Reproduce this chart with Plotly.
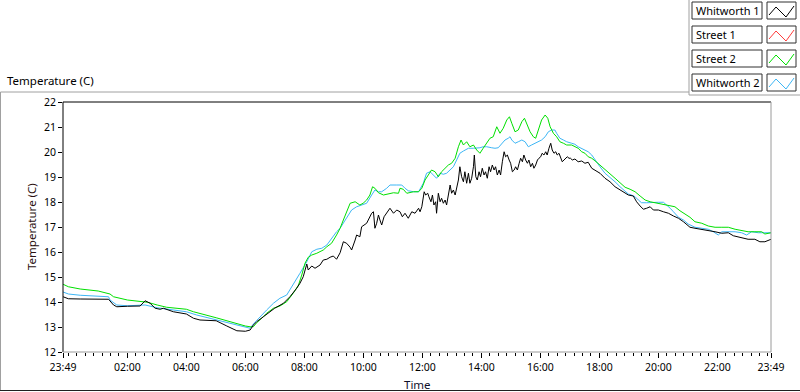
import plotly.graph_objects as go

# ---------------- data (time in hours from midnight; 23:49 start = -0.18) ----------------
names = ["Whitworth 1", "Street 1", "Street 2", "Whitworth 2"]
colors = ["#000000", "#FF3B3B", "#00E000", "#3DB6F5"]

w1_t = [-0.18, 0.00, 0.40, 1.01, 1.36, 1.53, 1.64, 2.00, 2.43, 2.60,
        2.77, 2.94, 3.11, 3.22, 3.33, 3.56, 4.00, 4.24, 4.46, 5.01,
        5.37, 5.71, 6.00,
        6.16, 6.27, 6.38, 6.61, 6.83, 6.99, 7.29, 7.51, 7.74, 7.85,
        7.96, 8.04, 8.08, 8.13, 8.25, 8.36, 8.53, 8.64, 8.76, 8.87,
        8.98, 9.09, 9.21, 9.32, 9.43, 9.55, 9.60, 9.72, 9.77, 9.88,
        9.94, 10.11, 10.28, 10.34, 10.39, 10.45, 10.51, 10.56, 10.62, 10.70,
        10.79, 10.90, 11.02, 11.13, 11.24, 11.32, 11.41, 11.52, 11.64, 11.75,
        11.87, 11.92, 11.98,
        12.06, 12.11, 12.18, 12.22, 12.29, 12.34, 12.39, 12.45, 12.48, 12.54,
        12.60, 12.65, 12.71, 12.77, 12.82, 12.88, 12.94, 12.99, 13.05, 13.11,
        13.16, 13.22, 13.27, 13.33, 13.39, 13.44, 13.50, 13.56, 13.61, 13.67,
        13.73, 13.76, 13.81, 13.86, 13.92, 13.97, 14.03, 14.09, 14.14, 14.20,
        14.26, 14.31, 14.37, 14.43, 14.48, 14.54, 14.60, 14.65, 14.71, 14.77,
        14.82, 14.88, 14.94, 14.99, 15.05, 15.11, 15.16, 15.22, 15.28, 15.33,
        15.39, 15.44, 15.50, 15.56, 15.61, 15.67, 15.73, 15.78, 15.84, 15.90,
        15.95, 16.01, 16.06, 16.12, 16.18, 16.23, 16.29, 16.35, 16.40, 16.46,
        16.52, 16.57, 16.63, 16.69, 16.74, 16.80, 16.86, 16.91, 16.97, 17.02,
        17.08, 17.17, 17.28, 17.40, 17.51, 17.62, 17.74, 17.85, 17.96,
        18.02, 18.19, 18.36, 18.53, 18.70, 18.87, 18.98, 19.15, 19.26, 19.38,
        19.49, 19.60, 19.72, 19.83, 20.00, 20.17, 20.34, 20.51, 20.68, 20.85,
        20.96, 21.07, 21.24, 21.47, 21.69, 21.92, 22.15, 22.37, 22.54, 22.71,
        22.88, 23.04, 23.27, 23.44, 23.61, 23.73, 23.82]
w1_v = [14.21, 14.13, 14.12, 14.12, 14.11, 13.88, 13.81, 13.83, 13.84, 14.05,
        13.95, 13.75, 13.71, 13.75, 13.71, 13.61, 13.52, 13.35, 13.28, 13.25,
        13.04, 12.85, 12.83,
        12.88, 13.08, 13.21, 13.41, 13.61, 13.75, 13.95, 14.21, 14.55, 14.75,
        15.01, 15.41, 15.52, 15.28, 15.44, 15.35, 15.48, 15.68, 15.71, 15.79,
        15.84, 15.71, 15.97, 16.41, 16.35, 16.19, 16.08, 16.48, 16.68, 16.61,
        17.01, 17.15, 17.55, 17.61, 16.95, 17.15, 17.48, 17.28, 17.08, 17.41,
        17.55, 17.75, 17.55, 17.68, 17.61, 17.41, 17.55, 17.35, 17.61, 17.55,
        17.75, 17.61, 17.81,
        18.41, 18.28, 18.35, 18.21, 18.01, 18.28, 17.88, 18.01, 17.55, 18.35,
        18.01, 18.15, 17.95, 18.08, 17.88, 18.28, 18.68, 18.35, 18.48, 18.28,
        18.61, 18.88, 19.41, 19.01, 18.81, 19.21, 18.75, 19.15, 18.75, 18.95,
        19.41, 19.88, 19.01, 18.88, 19.21, 19.01, 19.35, 19.08, 19.21, 18.95,
        19.41, 19.21, 19.48, 19.28, 19.41, 19.08, 19.28, 19.08, 19.61, 20.01,
        19.81, 19.88, 19.68, 19.55, 19.21, 19.28, 19.41, 19.28, 19.55, 19.75,
        19.61, 19.88, 19.68, 19.55, 19.68, 19.41, 19.55, 19.35, 19.48, 19.68,
        19.75, 19.81, 19.95, 19.88, 20.01, 19.88, 20.15, 20.35, 20.08, 19.95,
        20.01, 19.88, 19.95, 19.75, 19.61, 19.68, 19.75, 19.81, 19.75, 19.75,
        19.68, 19.72, 19.61, 19.64, 19.55, 19.59, 19.35, 19.28, 19.21,
        19.15, 18.95, 18.81, 18.61, 18.48, 18.35, 18.28, 18.24, 18.01, 17.84,
        17.71, 17.75, 17.81, 17.68, 17.68, 17.61, 17.55, 17.44, 17.35, 17.21,
        17.08, 16.99, 16.95, 16.91, 16.85, 16.81, 16.75, 16.77, 16.65, 16.61,
        16.55, 16.51, 16.51, 16.41, 16.41, 16.48, 16.51]

# Street 1: no samples visible in the chart
s1_t = []
s1_v = []

s2_t = [-0.18, 0.00, 0.40, 1.01, 1.41, 1.53, 2.00, 2.54, 2.68, 3.01,
        3.33, 4.00, 4.24, 5.01, 5.59, 6.00, 6.16, 6.27, 6.38, 6.49,
        6.72, 6.95, 7.17, 7.40, 7.62, 7.80, 7.91, 8.02, 8.13, 8.25,
        8.42, 8.64, 8.76, 8.92, 9.09, 9.21, 9.32, 9.43, 9.55, 9.72,
        9.88, 9.99, 10.11, 10.22, 10.31, 10.39, 10.51, 10.68, 10.85, 11.02,
        11.19, 11.24, 11.35, 11.47, 11.70, 11.87, 11.98, 12.09, 12.20, 12.31,
        12.43, 12.54, 12.65, 12.77, 12.88, 12.99, 13.11, 13.22, 13.31, 13.39,
        13.50, 13.61, 13.73, 13.84, 13.95, 14.06, 14.18, 14.29, 14.40, 14.52,
        14.63, 14.74, 14.86, 14.95, 15.03, 15.14, 15.25, 15.37, 15.46, 15.54,
        15.65, 15.76, 15.84, 15.93, 16.04, 16.16, 16.25, 16.33, 16.44, 16.55,
        16.66, 16.78, 16.89, 17.06, 17.17, 17.28, 17.40, 17.51, 17.62, 17.74,
        17.85, 18.02, 18.19, 18.36, 18.53, 18.70, 18.87, 19.04, 19.21, 19.38,
        19.55, 19.72, 19.88, 20.11, 20.34, 20.56, 20.73, 20.90, 21.07, 21.24,
        21.47, 21.69, 21.92, 22.15, 22.37, 22.60, 22.82, 23.04, 23.27, 23.50,
        23.61, 23.82]
s2_v = [14.71, 14.61, 14.52, 14.44, 14.32, 14.21, 14.08, 14.01, 13.99, 13.88,
        13.79, 13.71, 13.61, 13.37, 13.17, 13.04, 13.01, 13.01, 13.17, 13.28,
        13.55, 13.75, 13.84, 14.01, 14.35, 14.68, 15.08, 15.55, 15.79, 15.88,
        15.95, 16.08, 16.21, 16.35, 16.68, 16.95, 17.28, 17.61, 17.95, 18.01,
        17.88, 17.95, 18.08, 18.28, 18.61, 18.55, 18.37, 18.28, 18.32, 18.37,
        18.35, 18.55, 18.51, 18.35, 18.41, 18.41, 18.55, 18.88, 19.08, 19.28,
        19.21, 19.01, 19.21, 19.35, 19.48, 19.55, 19.75, 20.21, 20.48, 20.28,
        20.41, 20.21, 20.28, 20.08, 19.95, 20.15, 20.35, 20.55, 20.61, 21.01,
        20.75, 20.95, 21.28, 21.41, 21.15, 20.81, 20.88, 21.21, 21.35, 21.15,
        20.81, 20.61, 20.55, 20.88, 21.28, 21.48, 21.35, 21.01, 20.75, 20.61,
        20.41, 20.35, 20.28, 20.28, 20.21, 20.15, 20.01, 19.95, 19.81, 19.75,
        19.65, 19.48, 19.31, 19.15, 18.95, 18.77, 18.59, 18.51, 18.41, 18.24,
        18.08, 18.01, 17.97, 17.92, 17.88, 17.81, 17.65, 17.52, 17.39, 17.21,
        17.15, 17.04, 16.99, 16.99, 16.99, 16.91, 16.85, 16.81, 16.81, 16.81,
        16.72, 16.77]

w2_t = [-0.18, 0.00, 0.40, 1.01, 1.36, 1.41, 1.64, 2.00, 2.54, 2.60,
        3.01, 3.33, 4.00, 4.35, 5.01, 5.59, 6.00, 6.16, 6.27, 6.49,
        6.72, 6.95, 7.17, 7.40, 7.62, 7.85, 8.08, 8.25, 8.42, 8.59,
        8.76, 8.92, 9.09, 9.21, 9.32, 9.43, 9.60, 9.77, 9.94, 10.11,
        10.28, 10.39, 10.51, 10.62, 10.79, 10.90, 11.13, 11.30, 11.41, 11.52,
        11.70, 11.87, 12.03, 12.14, 12.26, 12.37, 12.48, 12.60, 12.71, 12.82,
        12.94, 13.05, 13.16, 13.27, 13.39, 13.56, 13.73, 13.84, 13.95, 14.06,
        14.18, 14.35, 14.46, 14.57, 14.69, 14.80, 14.91, 14.97, 15.03, 15.14,
        15.25, 15.37, 15.48, 15.59, 15.70, 15.82, 15.93, 16.04, 16.16, 16.27,
        16.38, 16.49, 16.55, 16.66, 16.78, 16.89, 17.06, 17.17, 17.28, 17.40,
        17.51, 17.62, 17.74, 17.85, 18.02, 18.19, 18.36, 18.53, 18.70, 18.87,
        18.98, 19.09, 19.21, 19.32, 19.43, 19.60, 19.77, 20.00, 20.17, 20.28,
        20.40, 20.51, 20.68, 20.85, 21.01, 21.24, 21.47, 21.69, 21.86, 22.03,
        22.15, 22.37, 22.60, 22.82, 22.99, 23.16, 23.39, 23.61, 23.82]
w2_v = [14.40, 14.32, 14.27, 14.25, 14.21, 14.08, 13.88, 13.85, 13.85, 13.88,
        13.77, 13.71, 13.61, 13.48, 13.28, 13.12, 12.99, 12.95, 13.12, 13.41,
        13.68, 13.95, 14.15, 14.28, 14.68, 15.15, 15.61, 16.01, 16.11, 16.15,
        16.28, 16.55, 16.81, 16.95, 17.15, 17.35, 17.68, 17.81, 17.88, 17.95,
        18.28, 18.48, 18.41, 18.41, 18.55, 18.68, 18.68, 18.68, 18.55, 18.45,
        18.41, 18.41, 18.75, 19.15, 19.21, 19.08, 18.95, 19.15, 19.11, 19.15,
        19.28, 19.41, 19.68, 19.95, 20.04, 20.15, 20.15, 20.15, 20.17, 20.21,
        20.21, 20.17, 20.15, 20.17, 20.35, 20.48, 20.55, 20.61, 20.48, 20.35,
        20.41, 20.48, 20.41, 20.21, 20.28, 20.35, 20.41, 20.48, 20.61, 20.81,
        20.88, 20.88, 20.75, 20.55, 20.48, 20.41, 20.35, 20.31, 20.21, 20.15,
        20.08, 20.01, 19.88, 19.68, 19.41, 19.15, 18.99, 18.81, 18.61, 18.41,
        18.32, 18.28, 18.21, 18.08, 17.97, 17.97, 17.99, 17.99, 17.99, 17.88,
        17.75, 17.61, 17.39, 17.28, 17.12, 16.99, 16.95, 16.91, 16.81, 16.68,
        16.81, 16.81, 16.81, 16.77, 16.68, 16.81, 16.77, 16.77, 16.77]

x_range = [-11 / 60, 23 + 49 / 60]
tick_vals = [-11 / 60, 2, 4, 6, 8, 10, 12, 14, 16, 18, 20, 22, 23 + 49 / 60]
tick_text = ["23:49", "02:00", "04:00", "06:00", "08:00", "10:00", "12:00",
             "14:00", "16:00", "18:00", "20:00", "22:00", "23:49"]
y_range = [12, 22]

# ---------------- layout helpers ----------------
W, H = 800, 392
PL, PR, PT, PB = 63, 771, 102, 352
FONT = "Noto Sans"


def fx(px):
    return (px - PL) / (PR - PL)


def fy(py):
    return (PB - py) / (PB - PT)


fig = go.Figure()
series = [(names[0], colors[0], w1_t, w1_v), (names[1], colors[1], s1_t, s1_v),
          (names[2], colors[2], s2_t, s2_v), (names[3], colors[3], w2_t, w2_v)]
# draw order: blue & green below black
for idx in [3, 2, 1, 0]:
    n, c, t, v = series[idx]
    fig.add_trace(go.Scatter(x=t, y=v, mode="lines", name=n,
                             line=dict(color=c, width=1), showlegend=False,
                             hoverinfo="skip"))

fig.update_layout(
    width=W, height=H,
    margin=dict(l=PL, r=W - PR, t=PT, b=H - PB, pad=0),
    paper_bgcolor="white", plot_bgcolor="white", showlegend=False,
    font=dict(family=FONT, color="black"),
)
fig.update_xaxes(
    range=x_range, tickmode="array", tickvals=tick_vals, ticktext=tick_text,
    ticks="outside", ticklen=5, tickwidth=1, tickcolor="black",
    tickfont=dict(family=FONT, size=10.5, color="black"),
    showgrid=False, zeroline=False, showline=False,
    minor=dict(tick0=0, dtick=2 / 7, ticks="outside", ticklen=3,
               tickcolor="black", tickwidth=1, showgrid=False),
)
fig.update_yaxes(
    range=y_range, dtick=1, tick0=12,
    ticks="outside", ticklen=4, tickwidth=1, tickcolor="black",
    tickfont=dict(family=FONT, size=10.5, color="black"),
    showgrid=False, zeroline=False, showline=False,
)

shapes = []


def line(x0, y0, x1, y1, color, width=1):
    shapes.append(dict(type="line", xref="paper", yref="paper",
                       x0=fx(x0), y0=fy(y0), x1=fx(x1), y1=fy(y1),
                       line=dict(color=color, width=width), layer="above"))


# plot frame (sunken look: dark top/left, gray bottom/right)
line(PL, PT, PR, PT, "#000000")
line(PL, PT, PL, PB, "#000000")
line(PL, PB, PR, PB, "#9a9a9a")
line(PR, PT, PR, PB, "#9a9a9a")
# outer panel
line(0.5, 92, 689, 92, "#a0a0a0")
line(0.5, 92, 0.5, 391, "#a0a0a0")
line(0, 390.5, 800, 390.5, "#202020")
# legend container
line(689, 0, 689, 95, "#a0a0a0")
line(689, 95, 800, 95, "#a0a0a0")

annotations = []
# legend entries
row_tops = [2, 26, 50, 74]
for i, (n, c) in enumerate(zip(names, colors)):
    top = row_tops[i]
    bot = top + 17
    shapes.append(dict(type="rect", xref="paper", yref="paper",
                       x0=fx(692), x1=fx(762), y0=fy(bot), y1=fy(top),
                       line=dict(color="#303030", width=1), fillcolor="white"))
    shapes.append(dict(type="rect", xref="paper", yref="paper",
                       x0=fx(767), x1=fx(796), y0=fy(bot), y1=fy(top),
                       line=dict(color="#303030", width=1), fillcolor="white"))
    pts = [(769, top + 13), (776, top + 5), (786, top + 15), (794, top + 4)]
    path = "M " + " L ".join(f"{fx(px)},{fy(py)}" for px, py in pts)
    shapes.append(dict(type="path", xref="paper", yref="paper", path=path,
                       line=dict(color=c, width=1)))
    annotations.append(dict(xref="paper", yref="paper", x=fx(694), y=fy(top + 8.5),
                            text=n, showarrow=False, xanchor="left", yanchor="middle",
                            font=dict(family=FONT, size=11, color="black")))

annotations.append(dict(xref="paper", yref="paper", x=fx(5), y=fy(81),
                        text="Temperature (C)", showarrow=False,
                        xanchor="left", yanchor="middle",
                        font=dict(family=FONT, size=11.5, color="black")))
annotations.append(dict(xref="paper", yref="paper", x=fx(31), y=fy(227),
                        text="Temperature (C)", showarrow=False, textangle=-90,
                        xanchor="center", yanchor="middle",
                        font=dict(family=FONT, size=11.5, color="#2a1010")))
annotations.append(dict(xref="paper", yref="paper", x=fx(418), y=fy(384),
                        text="Time", showarrow=False,
                        xanchor="center", yanchor="middle",
                        font=dict(family=FONT, size=11.5, color="#10102a")))

fig.update_layout(shapes=shapes, annotations=annotations)
fig.write_html("out.html",
               config={"displayModeBar": False, "staticPlot": True},
               post_script="document.body.style.margin='0';"
                           "document.body.style.overflow='hidden';")
